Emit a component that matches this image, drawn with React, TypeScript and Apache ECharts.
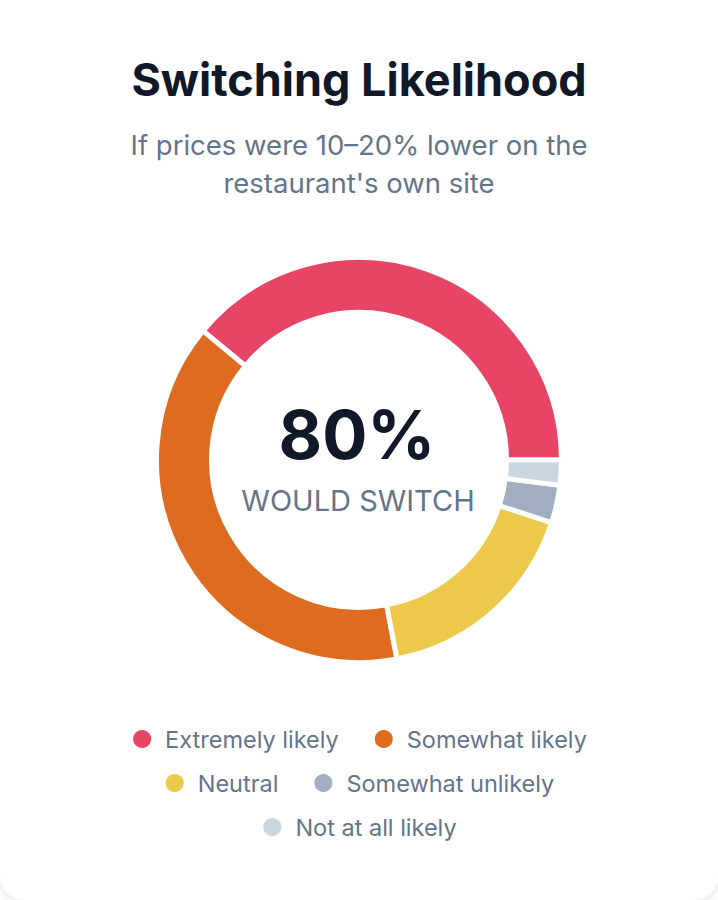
import { useEffect, useRef } from 'react';
import * as echarts from 'echarts';

const labels = ['Extremely likely', 'Somewhat likely', 'Neutral', 'Somewhat unlikely', 'Not at all likely'];
const shares = [39, 39, 17, 3, 2];
const colors = ['#E84466', '#DE6C20', '#ECC94B', '#A0AEC0', '#CBD5E0'];
const legendRows = [labels.slice(0, 2), labels.slice(2, 4), labels.slice(4)];
const legendTops = [722, 766, 810];

const FONT = 'Inter, "Noto Sans", sans-serif';

export default function App() {
  const chartRef = useRef<HTMLDivElement>(null);

  useEffect(() => {
    if (!chartRef.current) return;
    const chart = echarts.init(chartRef.current, undefined, { renderer: 'svg' });
    chart.setOption({
      animation: false,
      backgroundColor: 'transparent',
      graphic: [
        {
          type: 'text',
          x: 359,
          y: 79,
          style: {
            text: 'Switching Likelihood',
            font: `700 45px ${FONT}`,
            fill: '#111827',
            textAlign: 'center',
            textVerticalAlign: 'middle',
          },
        },
        {
          type: 'text',
          x: 359,
          y: 145,
          style: {
            text: 'If prices were 10–20% lower on the',
            font: `400 27.5px ${FONT}`,
            fill: '#64748B',
            textAlign: 'center',
            textVerticalAlign: 'middle',
          },
        },
        {
          type: 'text',
          x: 359,
          y: 183,
          style: {
            text: "restaurant's own site",
            font: `400 27.5px ${FONT}`,
            fill: '#64748B',
            textAlign: 'center',
            textVerticalAlign: 'middle',
          },
        },
        {
          type: 'text',
          x: 357,
          y: 434,
          style: {
            text: '80%',
            font: `700 67px ${FONT}`,
            fill: '#111827',
            textAlign: 'center',
            textVerticalAlign: 'middle',
          },
        },
        {
          type: 'text',
          x: 358,
          y: 500,
          style: {
            text: 'WOULD SWITCH',
            font: `400 29px ${FONT}`,
            fill: '#64748B',
            textAlign: 'center',
            textVerticalAlign: 'middle',
          },
        },
      ],
      legend: legendRows.map((row, i) => ({
        data: row,
        left: 'center',
        top: legendTops[i],
        icon: 'circle',
        itemWidth: 20,
        itemHeight: 20,
        itemGap: 34,
        selectedMode: false,
        textStyle: {
          fontFamily: FONT,
          fontSize: 23.5,
          color: '#64748B',
          padding: [0, 0, 0, 8],
        },
      })),
      series: [
        {
          type: 'pie',
          center: [359, 460],
          radius: [147.5, 202.5],
          startAngle: 0,
          clockwise: false,
          label: { show: false },
          labelLine: { show: false },
          emphasis: { disabled: true },
          itemStyle: { borderColor: '#ffffff', borderWidth: 5 },
          data: labels.map((name, i) => ({
            name,
            value: shares[i],
            itemStyle: { color: colors[i] },
          })),
        },
      ],
    });
    return () => chart.dispose();
  }, []);

  return (
    <div style={{ position: 'fixed', inset: 0, background: '#ffffff', overflow: 'hidden' }}>
      <div
        style={{
          position: 'absolute',
          left: 0,
          top: -30,
          width: 718,
          height: 930,
          background: '#ffffff',
          borderRadius: 24,
          boxShadow: '0 2px 10px rgba(15, 23, 42, 0.12)',
          overflow: 'hidden',
        }}
      >
        <div ref={chartRef} style={{ marginTop: 30, width: 718, height: 900 }} />
      </div>
    </div>
  );
}
